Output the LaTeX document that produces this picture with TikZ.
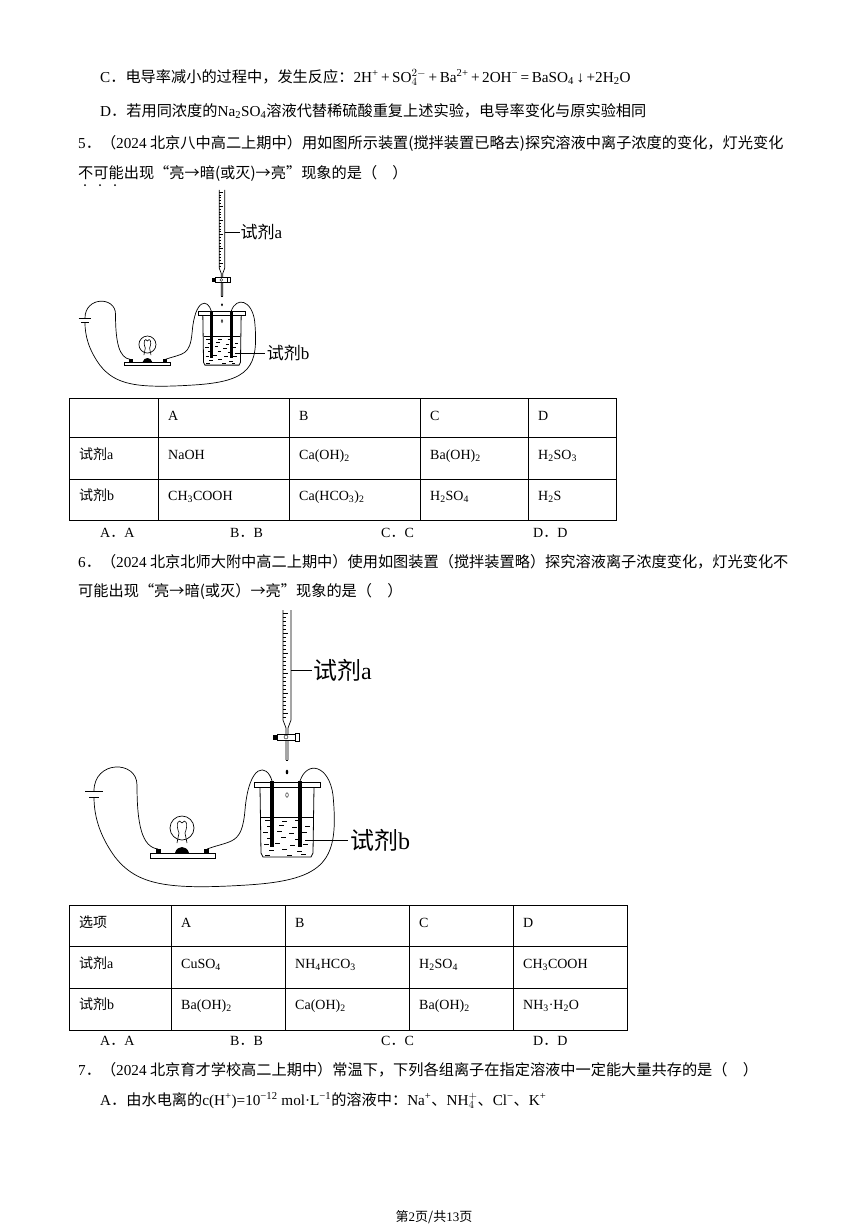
\documentclass[tikz,border=0pt]{standalone}
\usepackage{fontspec}
\setmainfont{Noto Sans CJK SC}
\newfontfamily\lt{Liberation Serif}
\newcommand\dd{{\rm ．}}
\tikzset{
 txt/.style={anchor=base west,inner sep=0pt,font=\fontsize{15.2}{17}\selectfont},
 cell/.style={anchor=base west,inner sep=0pt,font=\lt\fontsize{14}{16}\selectfont},
 grid/.style={line width=0.8pt},
 wire/.style={line width=0.7pt},
}
\newcommand\apparatus{%
 % burette
 \draw[line width=0.7pt] (-4,-175) -- (-4,-65) -- (-1,-57) -- (-1,-25) (4,-175) -- (4,-65) -- (1,-57) -- (1,-25);
 \draw[line width=0.5pt] (-1,-25) -- (1,-25);
 \foreach \k in {0,...,26}{\draw[line width=0.4pt] (-4,-172+4*\k) -- (-1.5,-172+4*\k);}
 \foreach \k in {0,...,5}{\draw[line width=0.5pt] (-4,-172+20*\k) -- (1,-172+20*\k);}
 \draw[fill=white,line width=0.7pt] (-10,-51) rectangle (8,-45);
 \draw[fill=black] (-14,-50) rectangle (-10,-46);
 \draw[line width=0.7pt] (8,-52) rectangle (12,-44);
 \draw (-1,-48) circle (2);
 \fill (0,-13) ellipse (1.3 and 2.3);
 \draw (0,10) ellipse (1.3 and 2.3);
 \draw[line width=0.6pt] (4,-115) -- (25,-115);
 \node[anchor=west,inner sep=0pt,font=\fontsize{24}{26}\selectfont] (la) at (26,-115) {试剂{\lt a}};
 % beaker
 \draw[line width=0.8pt,fill=white] (-33,-3) rectangle (33,2);
 \draw[line width=0.8pt] (-27,2) -- (-26,68) -- (-24,72) -- (24,72) -- (26,68) -- (27,2);
 \draw[line width=0.6pt] (-26,32) -- (26,32);
 \foreach \a/\b in {-22/35,-5/36,8/35,-20/41,-8/40,5/42,18/41,-24/47,-10/46,2/48,15/47,-20/53,-6/52,8/54,-23/59,-12/58,3/60,16/59,-18/65,-5/64,10/66,-22/70,0/70,14/69}{\draw[line width=0.6pt] (\a,\b) -- ++(5,0);}
 \fill (-17,-4) rectangle (-13,62);
 \fill (11,-4) rectangle (15,62);
 \draw[line width=0.6pt] (18,55) -- (61,55);
 \node[anchor=west,inner sep=0pt,font=\fontsize{24}{26}\selectfont] (lb) at (63,55) {试剂{\lt b}};
 % lamp
 \draw[line width=0.7pt] (-105,43) circle (12);
 \draw[line width=0.6pt] (-110,58) -- (-108,48) .. controls (-112,38) and (-108,33) .. (-105,38) .. controls (-102,33) and (-98,38) .. (-102,48) -- (-100,58);
 \fill (-112,68) .. controls (-110,60) and (-100,60) .. (-98,68) -- cycle;
 \draw[line width=0.8pt,fill=white] (-137,68) rectangle (-72,73);
 \fill (-131,64) rectangle (-126,68);
 \fill (-83,64) rectangle (-78,68);
 % battery
 \draw[line width=1pt] (-202,6) -- (-184,6);
 \draw[line width=1pt] (-198,12) -- (-188,12);
 % wires
 \draw[wire] (-193,6) .. controls (-193,-25) and (-150,-25) .. (-150,0) .. controls (-150,40) and (-145,62) .. (-129,64);
 \draw[wire] (-80,64) .. controls (-55,55) and (-45,60) .. (-42,25) .. controls (-38,-22) and (-20,-22) .. (-15,-4);
 \draw[wire] (13,-4) .. controls (20,-25) and (42,-20) .. (46,10) .. controls (52,75) and (40,95) .. (-40,100) .. controls (-120,105) and (-150,100) .. (-172,72) .. controls (-188,50) and (-193,30) .. (-193,12);
}
\begin{document}
\begin{tikzpicture}[x=1pt,y=-1pt]
\useasboundingbox[fill=white] (0,0) rectangle (868,1227);
\node[txt] (c) at (100,82) {{\lt C}\dd 电导率减小的过程中，发生反应：{\lt 2H\textsuperscript{+}\,+\,SO$_4^{2-}$\,+\,Ba\textsuperscript{2+}\,+\,2OH\textsuperscript{−}\,=\,BaSO\textsubscript{4}\,↓\,+2H\textsubscript{2}O}};
\node[txt] (d) at (100,116) {{\lt D}\dd 若用同浓度的{\lt Na\textsubscript{2}SO\textsubscript{4}}溶液代替稀硫酸重复上述实验，电导率变化与原实验相同};
\node[txt] (q5) at (78,148) {{\lt 5}\dd （{\lt 2024} 北京八中高二上期中）用如图所示装置(搅拌装置已略去)探究溶液中离子浓度的变化，灯光变化};
\node[txt] (q5b) at (78,178) {不可能出现“亮→暗(或灭)→亮”现象的是（\quad）};
\foreach \x in {85,100,115}{\fill (\x,185) circle (1);}
\begin{scope}[shift={(222,314)},scale=0.71,transform shape]
\apparatus
\end{scope}
% table 1
\draw[grid] (69,398) rectangle (616,520);
\foreach \y in {437,479}{\draw[grid] (69,\y) -- (616,\y);}
\foreach \x in {158,289,420,528}{\draw[grid] (\x,398) -- (\x,520);}
\node[cell] at (168,420) {A};\node[cell] at (299,420) {B};\node[cell] at (430,420) {C};\node[cell] at (538,420) {D};
\node[txt,font=\fontsize{14}{16}\selectfont] at (79,459) {试剂{\lt a}};
\node[cell] at (168,459) {NaOH};\node[cell] at (299,459) {Ca(OH)\textsubscript{2}};\node[cell] at (430,459) {Ba(OH)\textsubscript{2}};\node[cell] at (538,459) {H\textsubscript{2}SO\textsubscript{3}};
\node[txt,font=\fontsize{14}{16}\selectfont] at (79,500) {试剂{\lt b}};
\node[cell] at (168,500) {CH\textsubscript{3}COOH};\node[cell] at (299,500) {Ca(HCO\textsubscript{3})\textsubscript{2}};\node[cell] at (430,500) {H\textsubscript{2}SO\textsubscript{4}};\node[cell] at (538,500) {H\textsubscript{2}S};
\node[cell] at (100,537) {A\dd A};\node[cell] at (230,537) {B\dd B};\node[cell] at (381,537) {C\dd C};\node[cell] at (533,537) {D\dd D};
\node[txt] (q6) at (78,567) {{\lt 6}\dd （{\lt 2024} 北京北师大附中高二上期中）使用如图装置（搅拌装置略）探究溶液离子浓度变化，灯光变化不};
\node[txt] (q6b) at (78,596) {可能出现“亮→暗(或灭）→亮”现象的是（\quad）};
\begin{scope}[shift={(287,785)}]
\apparatus
\end{scope}
% table 2
\draw[grid] (69,905) rectangle (627,1030);
\foreach \y in {946,988}{\draw[grid] (69,\y) -- (627,\y);}
\foreach \x in {171,285,409,513}{\draw[grid] (\x,905) -- (\x,1030);}
\node[txt,font=\fontsize{14}{16}\selectfont] at (79,927) {选项};
\node[cell] at (181,927) {A};\node[cell] at (295,927) {B};\node[cell] at (419,927) {C};\node[cell] at (523,927) {D};
\node[txt,font=\fontsize{14}{16}\selectfont] at (79,968) {试剂{\lt a}};
\node[cell] at (181,968) {CuSO\textsubscript{4}};\node[cell] at (295,968) {NH\textsubscript{4}HCO\textsubscript{3}};\node[cell] at (419,968) {H\textsubscript{2}SO\textsubscript{4}};\node[cell] at (523,968) {CH\textsubscript{3}COOH};
\node[txt,font=\fontsize{14}{16}\selectfont] at (79,1009) {试剂{\lt b}};
\node[cell] at (181,1009) {Ba(OH)\textsubscript{2}};\node[cell] at (295,1009) {Ca(OH)\textsubscript{2}};\node[cell] at (419,1009) {Ba(OH)\textsubscript{2}};\node[cell] at (523,1009) {NH\textsubscript{3}·H\textsubscript{2}O};
\node[cell] at (100,1045) {A\dd A};\node[cell] at (230,1045) {B\dd B};\node[cell] at (381,1045) {C\dd C};\node[cell] at (533,1045) {D\dd D};
\node[txt] (q7) at (78,1075) {{\lt 7}\dd （{\lt 2024} 北京育才学校高二上期中）常温下，下列各组离子在指定溶液中一定能大量共存的是（\quad）};
\node[txt] (q7a) at (100,1105) {{\lt A}\dd 由水电离的{\lt c(H\textsuperscript{+})=10\textsuperscript{−12} mol·L\textsuperscript{−1}}的溶液中：{\lt Na\textsuperscript{+}}、{\lt NH$_4^+$}、{\lt Cl\textsuperscript{−}}、{\lt K\textsuperscript{+}}};
\node[anchor=base,inner sep=0pt,font=\fontsize{13}{15}\selectfont] (ft) at (434,1221) {第{\lt 2}页/共{\lt 13}页};
\end{tikzpicture}
\end{document}
